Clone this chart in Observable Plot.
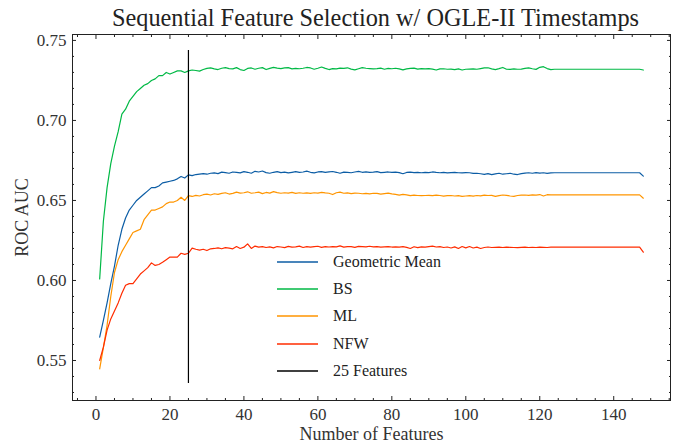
<!DOCTYPE html>
<html>
<head>
<meta charset="utf-8">
<script src="https://cdn.jsdelivr.net/npm/d3@7"></script>
<script src="https://cdn.jsdelivr.net/npm/@observablehq/plot@0.6"></script>
<style>
  html, body { margin: 0; padding: 0; background: #fff; }
  #wrap { position: relative; width: 681px; height: 443px; font-family: "Liberation Serif", serif; }
  #wrap svg text { font-family: "Liberation Serif", serif; }
  #legend { position: absolute; left: 277px; top: 248px; font-size: 16px; color: #222; }
  #legend .row { height: 27.3px; display: flex; align-items: center; }
  #legend svg { width: 41px; height: 4px; margin-right: 15px; }
</style>
</head>
<body>
<div id="wrap"></div>
<script>
const title = "Sequential Feature Selection w/ OGLE-II Timestamps";
const xLabel = "Number of Features";
const yLabel = "ROC AUC";
const seriesNames = ["Geometric Mean", "BS", "ML", "NFW"];
const seriesColors = ["#0C5DA5", "#00B945", "#FF9500", "#FF2C00"];
const cutoffLabel = "25 Features";
const cutoff = 25;
const cutoffRange = [0.5356, 0.7437];
const xMajorTicks = [0, 20, 40, 60, 80, 100, 120, 140];
const yMajorTicks = [0.55, 0.60, 0.65, 0.70, 0.75];

const geometricMean = [
  0.5646, 0.575, 0.586, 0.598, 0.609, 0.622, 0.632, 0.639, 0.644, 0.647, 0.650, 0.652, 0.654, 0.656, 0.658, 0.658, 0.659, 0.661, 0.6615, 0.662, 0.6625, 0.6635, 0.665, 0.664, 0.666,
  0.6655, 0.6662, 0.6665, 0.6668, 0.6664, 0.6670, 0.6672, 0.6668, 0.6677, 0.6674, 0.6670, 0.6678, 0.6675, 0.6672, 0.6680, 0.6676, 0.6670, 0.6682, 0.6678, 0.6684, 0.6674, 0.6670, 0.6676, 0.6680, 0.6674,
  0.6677, 0.6672, 0.6676, 0.6680, 0.6675, 0.6678, 0.6683, 0.6676, 0.6672, 0.6678, 0.6680, 0.6675, 0.6678, 0.6681, 0.6676, 0.6670, 0.6677, 0.6675, 0.6673, 0.6678, 0.6682, 0.6676, 0.6679, 0.6675, 0.6677,
  0.6680, 0.6674, 0.6676, 0.6678, 0.6675, 0.6677, 0.6674, 0.6667, 0.6675, 0.6677, 0.6674, 0.6676, 0.6673, 0.6675, 0.6674, 0.6678, 0.6675, 0.6673, 0.6675, 0.6672, 0.6674, 0.6675, 0.6673, 0.6672, 0.6674,
  0.6673, 0.6669, 0.6670, 0.6667, 0.6663, 0.6668, 0.6661, 0.6666, 0.6670, 0.6664, 0.6667, 0.6670, 0.6664, 0.6662, 0.6668, 0.6671, 0.6673, 0.6670, 0.6674, 0.6671, 0.6673, 0.6669, 0.6672, 0.6673, 0.6673,
  0.6673, 0.6673, 0.6673, 0.6673, 0.6673, 0.6673, 0.6673, 0.6673, 0.6673, 0.6673, 0.6673, 0.6673, 0.6673, 0.6673, 0.6673, 0.6673, 0.6673, 0.6673, 0.6673, 0.6673, 0.6673, 0.6673, 0.6652
];
const bs = [
  0.601, 0.637, 0.658, 0.673, 0.684, 0.693, 0.704, 0.707, 0.712, 0.715, 0.718, 0.720, 0.722, 0.723, 0.725, 0.726, 0.728, 0.728, 0.730, 0.729, 0.730, 0.731, 0.731, 0.730, 0.731,
  0.7315, 0.7312, 0.7308, 0.7318, 0.7325, 0.7328, 0.7322, 0.7318, 0.7326, 0.7330, 0.7324, 0.7322, 0.7330, 0.7318, 0.7312, 0.7325, 0.7328, 0.7320, 0.7326, 0.7330, 0.7318, 0.7325, 0.7332, 0.7327, 0.7324,
  0.7328, 0.7330, 0.7322, 0.7325, 0.7323, 0.7326, 0.7331, 0.7328, 0.7320, 0.7326, 0.7334, 0.7325, 0.7318, 0.7324, 0.7322, 0.7327, 0.7325, 0.7329, 0.7321, 0.7316, 0.7323, 0.7330, 0.7326, 0.7324, 0.7322,
  0.7324, 0.7327, 0.7320, 0.7325, 0.7323, 0.7326, 0.7322, 0.7316, 0.7322, 0.7325, 0.7327, 0.7321, 0.7324, 0.7322, 0.7324, 0.7321, 0.7315, 0.7322, 0.7323, 0.7320, 0.7321, 0.7318, 0.7322, 0.7315, 0.7320,
  0.7321, 0.7322, 0.7320, 0.7324, 0.7328, 0.7329, 0.7322, 0.7318, 0.7324, 0.7331, 0.7320, 0.7319, 0.7322, 0.7320, 0.7321, 0.7325, 0.7328, 0.7323, 0.7319, 0.7332, 0.7336, 0.7324, 0.7318, 0.7320, 0.7320,
  0.7320, 0.7320, 0.7320, 0.7320, 0.7320, 0.7320, 0.7320, 0.7320, 0.7320, 0.7320, 0.7320, 0.7320, 0.7320, 0.7320, 0.7320, 0.7320, 0.7320, 0.7320, 0.7320, 0.7320, 0.7320, 0.7320, 0.7315
];
const ml = [
  0.5448, 0.558, 0.572, 0.590, 0.605, 0.613, 0.618, 0.622, 0.626, 0.630, 0.631, 0.632, 0.638, 0.641, 0.644, 0.644, 0.645, 0.646, 0.648, 0.649, 0.649, 0.650, 0.652, 0.650, 0.653,
  0.6525, 0.6532, 0.6528, 0.6536, 0.6540, 0.6534, 0.6542, 0.6538, 0.6544, 0.6548, 0.6540, 0.6544, 0.6552, 0.6546, 0.6548, 0.6554, 0.6545, 0.6548, 0.6552, 0.6543, 0.6550, 0.6546, 0.6555, 0.6549, 0.6545,
  0.6548, 0.6546, 0.6550, 0.6544, 0.6548, 0.6545, 0.6547, 0.6544, 0.6548, 0.6546, 0.6550, 0.6547, 0.6545, 0.6537, 0.6548, 0.6552, 0.6545, 0.6547, 0.6543, 0.6546, 0.6545, 0.6542, 0.6544, 0.6541, 0.6545,
  0.6544, 0.6540, 0.6543, 0.6546, 0.6541, 0.6538, 0.6533, 0.6538, 0.6535, 0.6530, 0.6533, 0.6531, 0.6530, 0.6531, 0.6532, 0.6530, 0.6533, 0.6531, 0.6527, 0.6530, 0.6531, 0.6528, 0.6530, 0.6526, 0.6528,
  0.6530, 0.6527, 0.6531, 0.6529, 0.6533, 0.6531, 0.6532, 0.6526, 0.6530, 0.6534, 0.6532, 0.6528, 0.6525, 0.6531, 0.6533, 0.6534, 0.6532, 0.6535, 0.6533, 0.6537, 0.6528, 0.6536, 0.6535, 0.6535, 0.6535,
  0.6535, 0.6535, 0.6535, 0.6535, 0.6535, 0.6535, 0.6535, 0.6535, 0.6535, 0.6535, 0.6535, 0.6535, 0.6535, 0.6535, 0.6535, 0.6535, 0.6535, 0.6535, 0.6535, 0.6535, 0.6535, 0.6535, 0.6514
];
const nfw = [
  0.550, 0.5583, 0.569, 0.576, 0.581, 0.586, 0.592, 0.597, 0.598, 0.598, 0.601, 0.604, 0.606, 0.608, 0.611, 0.6094, 0.610, 0.6114, 0.613, 0.6146, 0.6146, 0.6146, 0.617, 0.6163, 0.617,
  0.6202, 0.6195, 0.6190, 0.6195, 0.6187, 0.6198, 0.6200, 0.6204, 0.6198, 0.6205, 0.6202, 0.6198, 0.6212, 0.6200, 0.6208, 0.6229, 0.6200, 0.6215, 0.6208, 0.6212, 0.6206, 0.6210, 0.6204, 0.6212, 0.6209,
  0.6205, 0.6213, 0.6208, 0.6210, 0.6215, 0.6206, 0.6212, 0.6208, 0.6211, 0.6214, 0.6207, 0.6212, 0.6209, 0.6212, 0.6210, 0.6216, 0.6208, 0.6212, 0.6211, 0.6207, 0.6213, 0.6212, 0.6210, 0.6214, 0.6210,
  0.6212, 0.6208, 0.6210, 0.6212, 0.6209, 0.6210, 0.6208, 0.6211, 0.6207, 0.6200, 0.6211, 0.6205, 0.6210, 0.6208, 0.6212, 0.6215, 0.6209, 0.6212, 0.6206, 0.6209, 0.6203, 0.6210, 0.6200, 0.6212, 0.6204,
  0.6212, 0.6203, 0.6208, 0.6200, 0.6206, 0.6209, 0.6206, 0.6207, 0.6208, 0.6206, 0.6208, 0.6207, 0.6206, 0.6205, 0.6207, 0.6208, 0.6206, 0.6207, 0.6206, 0.6208, 0.6207, 0.6206, 0.6208, 0.6208, 0.6208,
  0.6208, 0.6208, 0.6208, 0.6208, 0.6208, 0.6208, 0.6208, 0.6208, 0.6208, 0.6208, 0.6208, 0.6208, 0.6208, 0.6208, 0.6208, 0.6208, 0.6208, 0.6208, 0.6208, 0.6208, 0.6208, 0.6208, 0.6177
];

const seriesValues = [geometricMean, bs, ml, nfw];
const table = [];
seriesNames.forEach((name, i) => {
  seriesValues[i].forEach((v, j) => table.push({series: name, n: j + 1, auc: v}));
});
const xMinorTicks = d3.range(-5, 156, 5).filter(d => d % 20 !== 0);
const yMinorTicks = d3.range(53, 76, 1).map(d => d / 100).filter(d => Math.round(d * 100) % 5 !== 0);
const cutoffLine = [{n: cutoff, y1: cutoffRange[0], y2: cutoffRange[1]}];

const nMax = d3.max(seriesValues, s => s.length);
const xPad = (nMax - 1) * 0.05;
const font = "Liberation Serif, serif";
const ink = "#222";
const noText = () => "";

const chart = Plot.plot({
  width: 681,
  height: 443,
  marginLeft: 72,
  marginRight: 11,
  marginTop: 34,
  marginBottom: 43,
  style: {fontFamily: font, fontSize: "17px", color: ink, background: "#fff"},
  x: {domain: [1 - xPad, nMax + xPad]},
  y: {domain: [0.525, 0.7537]},
  color: {domain: seriesNames, range: seriesColors},
  marks: [
    Plot.axisX(xMinorTicks, {anchor: "bottom", tickSize: -2, tickFormat: noText, label: null, stroke: ink}),
    Plot.axisX(xMinorTicks, {anchor: "top", tickSize: -2, tickFormat: noText, label: null, stroke: ink}),
    Plot.axisX(xMajorTicks, {anchor: "bottom", tickSize: -4, tickFormat: noText, label: null, stroke: ink}),
    Plot.axisX(xMajorTicks, {anchor: "top", tickSize: -4, tickFormat: noText, label: null, stroke: ink}),
    Plot.axisX(xMajorTicks, {anchor: "bottom", tickSize: 0, tickPadding: 7, tickFormat: d => String(d), label: null, fill: "#333", fontFamily: font, fontSize: 17}),
    Plot.axisY(yMinorTicks, {anchor: "left", tickSize: -2, tickFormat: noText, label: null, stroke: ink}),
    Plot.axisY(yMinorTicks, {anchor: "right", tickSize: -2, tickFormat: noText, label: null, stroke: ink}),
    Plot.axisY(yMajorTicks, {anchor: "left", tickSize: -4, tickFormat: noText, label: null, stroke: ink}),
    Plot.axisY(yMajorTicks, {anchor: "right", tickSize: -4, tickFormat: noText, label: null, stroke: ink}),
    Plot.axisY(yMajorTicks, {anchor: "left", tickSize: 0, tickPadding: 6, tickFormat: d => d.toFixed(2), label: null, fill: "#333", fontFamily: font, fontSize: 17}),
    Plot.line(table, {x: "n", y: "auc", z: "series", stroke: "series", strokeWidth: 1.2}),
    Plot.ruleX(cutoffLine, {x: "n", y1: "y1", y2: "y2", stroke: "#000", strokeWidth: 1.2}),
    Plot.frame({stroke: ink, strokeWidth: 1}),
    Plot.text([title], {frameAnchor: "top", lineAnchor: "middle", dy: -16, dx: 4, fontSize: 24.3, fontFamily: font, fill: "#222"}),
    Plot.text([xLabel], {frameAnchor: "bottom", lineAnchor: "middle", dy: 34, fontSize: 18, fontFamily: font, fill: "#333"}),
    Plot.text([yLabel], {frameAnchor: "left", textAnchor: "middle", lineAnchor: "middle", rotate: -90, dx: -50, fontSize: 18, fontFamily: font, fill: "#333"})
  ]
});

const wrap = document.getElementById("wrap");
wrap.appendChild(chart);

const legend = document.createElement("div");
legend.id = "legend";
const entries = seriesNames.map((n, i) => [n, seriesColors[i]]).concat([[cutoffLabel, "#000"]]);
for (const [name, color] of entries) {
  const row = document.createElement("div");
  row.className = "row";
  row.innerHTML = `<svg viewBox="0 0 41 4"><line x1="0" x2="41" y1="2" y2="2" stroke="${color}" stroke-width="1.3"/></svg><span>${name}</span>`;
  legend.appendChild(row);
}
wrap.appendChild(legend);
</script>
</body>
</html>
